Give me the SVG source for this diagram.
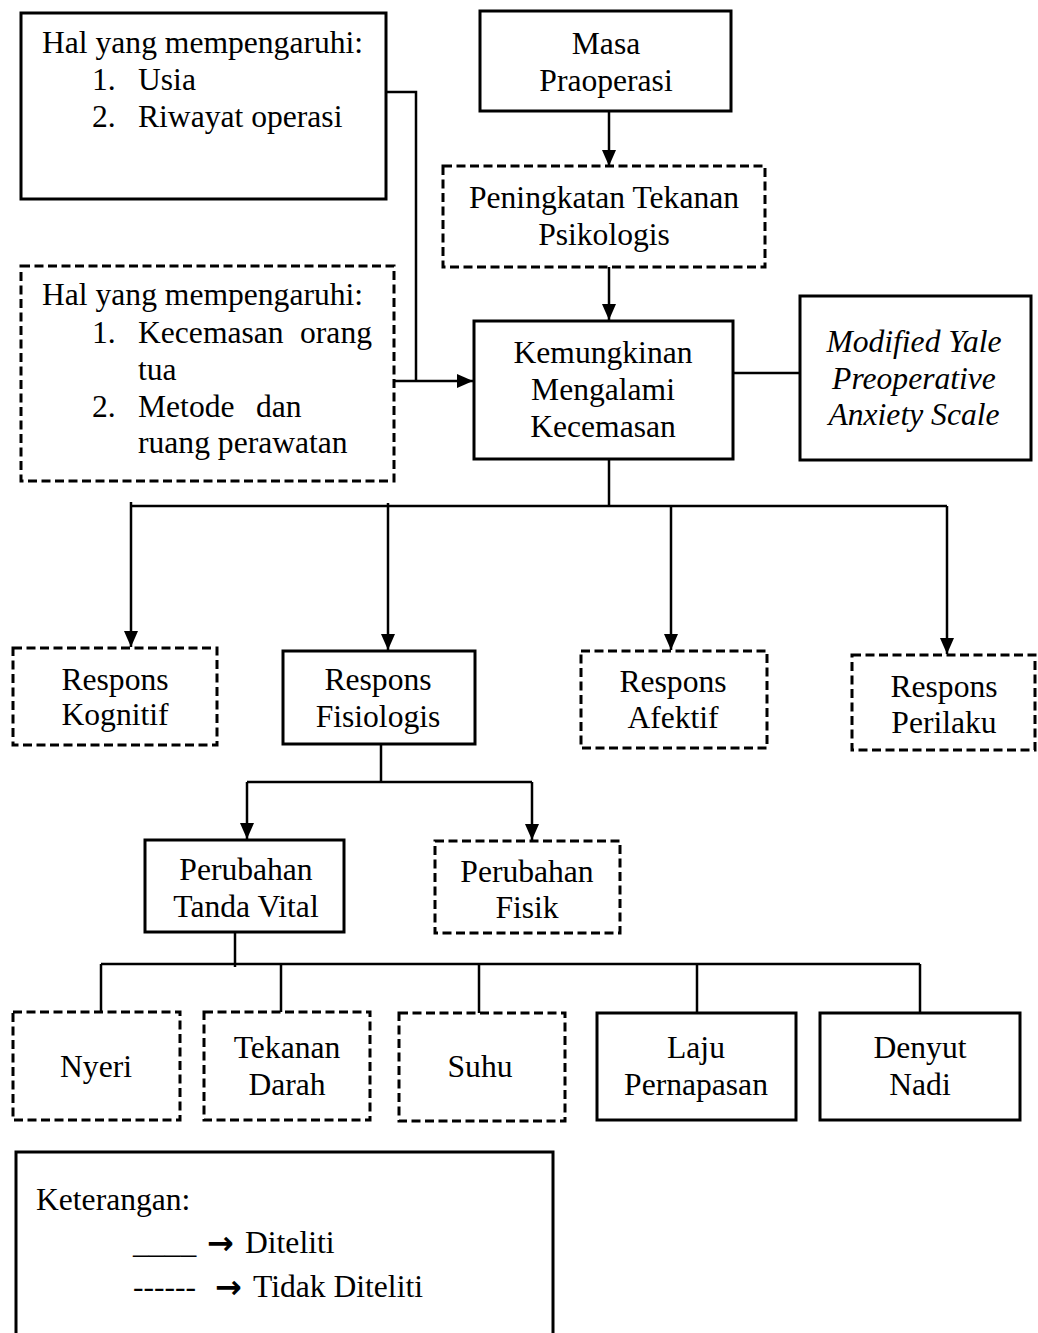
<svg xmlns="http://www.w3.org/2000/svg" width="1038" height="1333" viewBox="0 0 1038 1333">
<style>
  text { font-family: "Liberation Serif", "Times New Roman", serif; font-size: 31.6px; fill: #000; }
  .c { text-anchor: middle; }
  .it { font-style: italic; }
  .sym { font-family: "DejaVu Sans", sans-serif; font-size: 32px; font-weight: bold; }
  .box { fill: #fff; stroke: #000; stroke-width: 3; }
  .dash { fill: #fff; stroke: #000; stroke-width: 3; stroke-dasharray: 9 4.5; }
  .ln { fill: none; stroke: #000; stroke-width: 2.5; }
  .arr { fill: none; stroke: #000; stroke-width: 2.5; marker-end: url(#ah); }
</style>
<defs>
  <marker id="ah" markerUnits="userSpaceOnUse" markerWidth="16" markerHeight="18" viewBox="0 0 16 18" refX="16" refY="7" orient="auto">
    <path d="M0,0 L16,7 L0,14 Z" fill="#000"/>
  </marker>
</defs>
<rect width="1038" height="1333" fill="#fff"/>

<g id="connectors">
  <path class="arr" d="M609 111 V166"/>
  <path class="arr" d="M609 267 V320"/>
  <path class="ln" d="M386 92 H416 V381"/>
  <path class="arr" d="M394 381 H473"/>
  <path class="ln" d="M733 373 H800"/>
  <path class="ln" d="M609 459 V506"/>
  <path class="ln" d="M131 506 H947"/>
  <path class="arr" d="M131 502 V647"/>
  <path class="arr" d="M388 503 V650"/>
  <path class="arr" d="M671 506 V650"/>
  <path class="arr" d="M947 506 V654"/>
  <path class="ln" d="M381 744 V783"/>
  <path class="ln" d="M247 782 H532"/>
  <path class="arr" d="M247 782 V839"/>
  <path class="arr" d="M532 782 V840"/>
  <path class="ln" d="M235 932 V967"/>
  <path class="ln" d="M101 964 H920"/>
  <path class="ln" d="M101 964 V1018"/>
  <path class="ln" d="M281 964 V1020"/>
  <path class="ln" d="M479 964 V1019"/>
  <path class="ln" d="M697 964 V1015"/>
  <path class="ln" d="M920 964 V1018"/>
</g>

<g id="faktor1">
  <rect class="box" x="21" y="13" width="365" height="186"/>
  <text x="42" y="53">Hal yang mempengaruhi:</text>
  <text x="92" y="90">1.</text><text x="138" y="90">Usia</text>
  <text x="92" y="127">2.</text><text x="138" y="127">Riwayat operasi</text>
</g>

<g id="masa">
  <rect class="box" x="480" y="11" width="251" height="100"/>
  <text class="c" x="606" y="54">Masa</text>
  <text class="c" x="606" y="91">Praoperasi</text>
</g>

<g id="peningkatan">
  <rect class="dash" x="443" y="166" width="322" height="101"/>
  <text class="c" x="604" y="208">Peningkatan Tekanan</text>
  <text class="c" x="604" y="245">Psikologis</text>
</g>

<g id="faktor2">
  <rect class="dash" x="21" y="266" width="373" height="215"/>
  <text x="42" y="305">Hal yang mempengaruhi:</text>
  <text x="92" y="343">1.</text><text x="138" y="343">Kecemasan<tspan x="372" text-anchor="end"> orang</tspan></text>
  <text x="138" y="380">tua</text>
  <text x="92" y="417">2.</text><text x="138" y="417">Metode<tspan x="248"> dan</tspan></text>
  <text x="138" y="453">ruang perawatan</text>
</g>

<g id="kemungkinan">
  <rect class="box" x="474" y="321" width="259" height="138"/>
  <text class="c" x="603" y="363">Kemungkinan</text>
  <text class="c" x="603" y="400">Mengalami</text>
  <text class="c" x="603" y="437">Kecemasan</text>
</g>

<g id="mypas">
  <rect class="box" x="800" y="296" width="231" height="164"/>
  <text class="c it" x="914" y="352">Modified Yale</text>
  <text class="c it" x="914" y="389">Preoperative</text>
  <text class="c it" x="914" y="425">Anxiety Scale</text>
</g>

<g id="kognitif">
  <rect class="dash" x="13" y="648" width="204" height="97"/>
  <text class="c" x="115" y="690">Respons</text>
  <text class="c" x="115" y="725">Kognitif</text>
</g>

<g id="fisiologis">
  <rect class="box" x="283" y="651" width="192" height="93"/>
  <text class="c" x="378" y="690">Respons</text>
  <text class="c" x="378" y="727">Fisiologis</text>
</g>

<g id="afektif">
  <rect class="dash" x="581" y="651" width="186" height="97"/>
  <text class="c" x="673" y="692">Respons</text>
  <text class="c" x="673" y="728">Afektif</text>
</g>

<g id="perilaku">
  <rect class="dash" x="852" y="655" width="183" height="95"/>
  <text class="c" x="944" y="697">Respons</text>
  <text class="c" x="944" y="733">Perilaku</text>
</g>

<g id="tanda-vital">
  <rect class="box" x="145" y="840" width="199" height="92"/>
  <text class="c" x="246" y="880">Perubahan</text>
  <text class="c" x="246" y="917">Tanda Vital</text>
</g>

<g id="fisik">
  <rect class="dash" x="435" y="841" width="185" height="92"/>
  <text class="c" x="527" y="882">Perubahan</text>
  <text class="c" x="527" y="918">Fisik</text>
</g>

<g id="nyeri">
  <rect class="dash" x="13" y="1012" width="167" height="108"/>
  <text class="c" x="96" y="1077">Nyeri</text>
</g>

<g id="tekanan-darah">
  <rect class="dash" x="204" y="1012" width="166" height="108"/>
  <text class="c" x="287" y="1058">Tekanan</text>
  <text class="c" x="287" y="1095">Darah</text>
</g>

<g id="suhu">
  <rect class="dash" x="399" y="1013" width="166" height="108"/>
  <text class="c" x="480" y="1077">Suhu</text>
</g>

<g id="laju">
  <rect class="box" x="597" y="1013" width="199" height="107"/>
  <text class="c" x="696" y="1058">Laju</text>
  <text class="c" x="696" y="1095">Pernapasan</text>
</g>

<g id="denyut">
  <rect class="box" x="820" y="1013" width="200" height="107"/>
  <text class="c" x="920" y="1058">Denyut</text>
  <text class="c" x="920" y="1095">Nadi</text>
</g>

<g id="legend">
  <rect class="box" x="16" y="1152" width="537" height="200"/>
  <text x="36" y="1210">Keterangan:</text>
  <text x="133" y="1253">____</text>
  <text class="sym" x="207" y="1254">→</text>
  <text x="245" y="1253">Diteliti</text>
  <text x="133" y="1297">------</text>
  <text class="sym" x="215" y="1298">→</text>
  <text x="253" y="1297">Tidak Diteliti</text>
</g>
</svg>
